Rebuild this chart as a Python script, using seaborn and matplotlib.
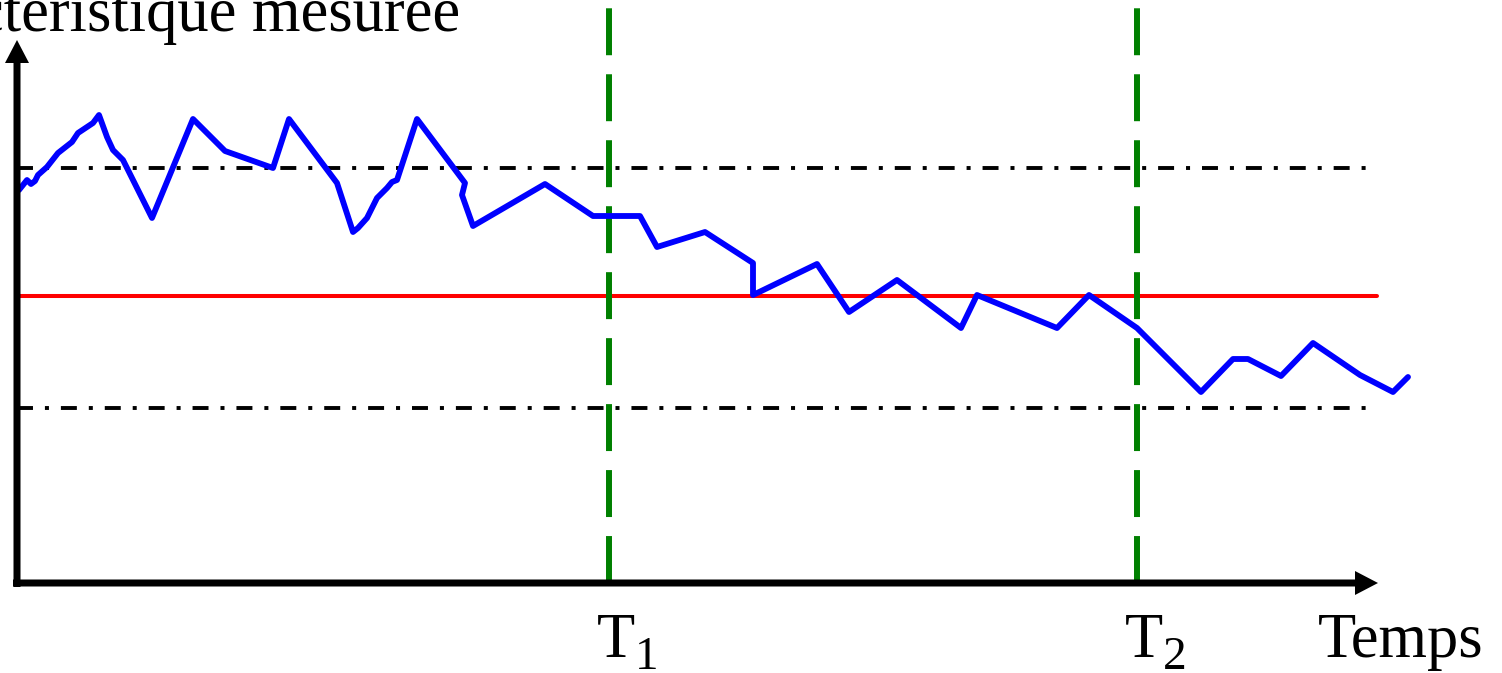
import matplotlib
matplotlib.use('Agg')
import matplotlib.pyplot as plt
import numpy as np
import pandas as pd
import seaborn as sns

# measured characteristic over time (origin at axes corner)
temps = [2, 10, 14, 18, 21, 30, 41, 55, 61, 76, 82, 90, 96, 106, 135, 176, 208, 256, 272,
         320, 336, 341, 350, 360, 370, 375, 380, 400, 448, 445, 456, 528, 576, 623, 640,
         688, 736, 736, 800, 832, 880, 944, 960, 1040, 1072, 1120, 1184, 1216, 1231,
         1264, 1296, 1343, 1376, 1391]
mesure = [393, 403, 399, 402, 408, 416, 430, 441, 450, 460, 468, 446, 433, 423, 365, 464,
          432, 415, 464, 400, 351, 355, 365, 385, 395, 401, 403, 464, 400, 388, 357, 399,
          367, 367, 336, 351, 320, 288, 319, 271, 303, 255, 288, 255, 288, 255, 191, 224,
          224, 207, 240, 208, 191, 206]

moyenne = 287.5
limite_haute = 415
limite_basse = 175
instants = [592, 1120]
instant_labels = ['1', '2']

sns.set_theme(style='white')
plt.rcParams['font.family'] = ['Liberation Serif', 'DejaVu Serif']
plt.rcParams['lines.scale_dashes'] = False

fig = plt.figure(figsize=(15.02, 6.73), dpi=100)
ax = fig.add_axes([0, 0, 1, 1])

# control limits (dash-dot) and mean (red)
for lim in (limite_haute, limite_basse):
    ax.plot([0, 1351], [lim, lim], color='black', lw=2.8,
            linestyle=(0, (11.5, 8.6, 2.9, 8.6)), zorder=2)
ax.plot([0, 1360], [moyenne, moyenne], color='red', lw=2.9, zorder=2)

# time markers
for t in instants:
    ax.plot([t, t], [0, 575], color='green', lw=4.3,
            linestyle=(0, (33.8, 13.7)), zorder=3)

df = pd.DataFrame({'temps': temps, 'mesure': mesure})
sns.lineplot(data=df, x='temps', y='mesure', sort=False, estimator=None,
             color='blue', linewidth=4.2, ax=ax, zorder=4)
ax.set_xlim(-17, 1485)
ax.set_ylim(-90, 583)
ax.set_axis_off()

# axes with arrows
ax.arrow(-4, 0, 1365, 0, width=7, head_width=24, head_length=23,
         length_includes_head=True, color='black', lw=0, zorder=5)
ax.arrow(0, -4, 0, 547, width=7, head_width=24, head_length=23,
         length_includes_head=True, color='black', lw=0, zorder=5)

# labels
ax.text(443, 552, 'Caracteristique mesuree', ha='right', va='baseline',
        fontsize=45, color='black')
ax.text(1301, -74, 'Temps', ha='left', va='baseline', fontsize=45, color='black')
for t, lab in zip(instants, instant_labels):
    ax.text(t - 12, -74, 'T', ha='left', va='baseline', fontsize=45, color='black')
    ax.text(t + 26, -86, lab, ha='left', va='baseline', fontsize=34, color='black')

fig.savefig('out.png', dpi=100)
plt.close(fig)
